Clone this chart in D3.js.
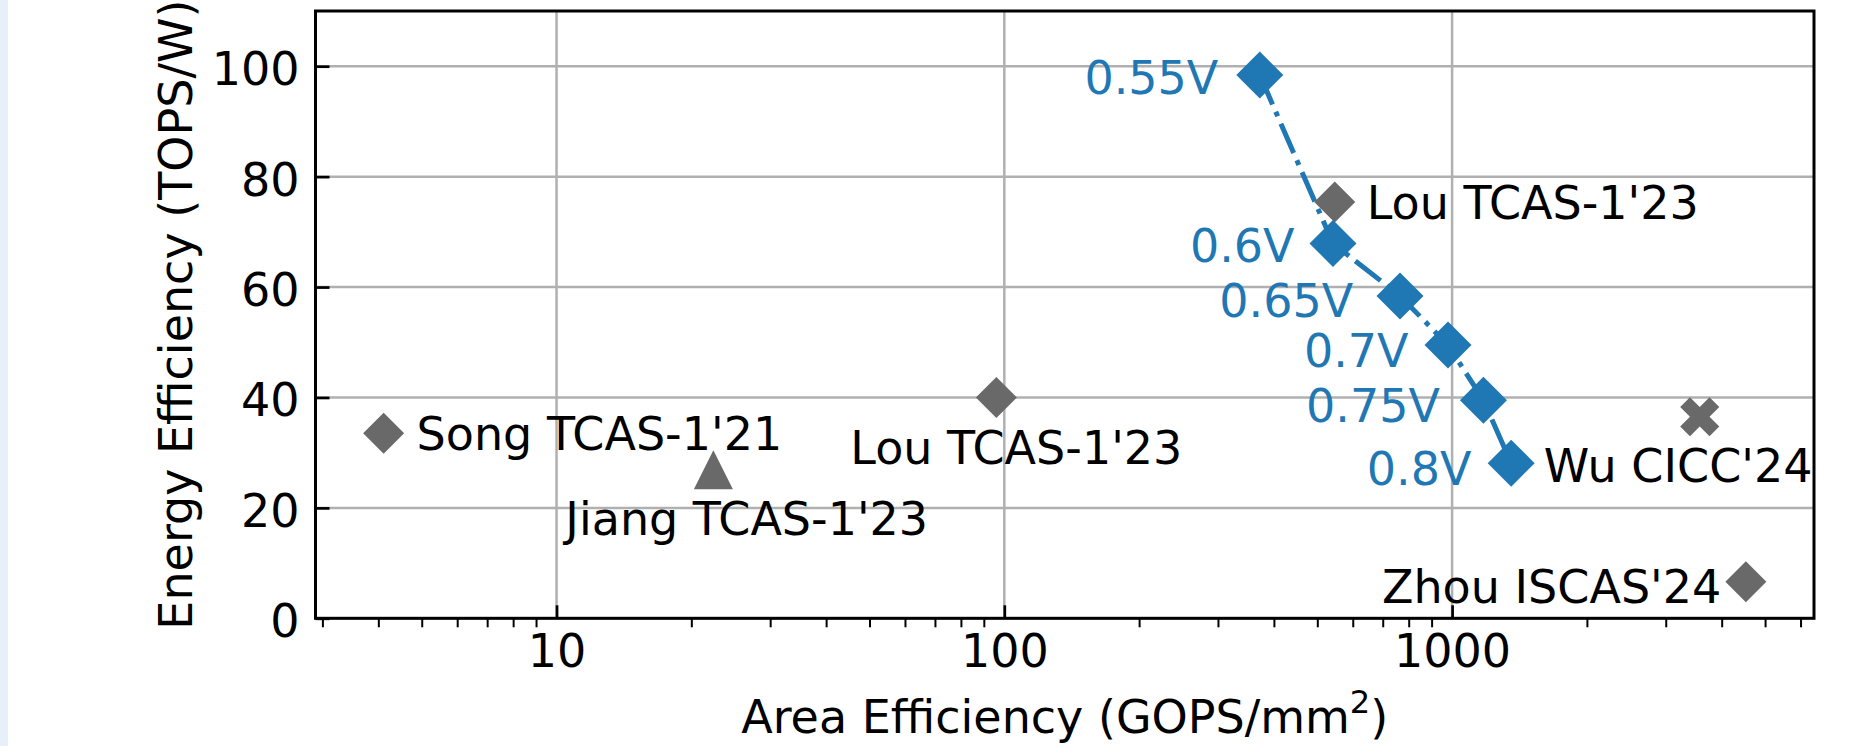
<!DOCTYPE html>
<html>
<head>
<meta charset="utf-8">
<script src="https://cdn.jsdelivr.net/npm/d3@7"></script>
<style>
  html, body { margin: 0; padding: 0; background: #ffffff; }
  svg { display: block; font-family: "DejaVu Sans", sans-serif; }
</style>
</head>
<body>
<svg id="chart" width="1858" height="746"></svg>
<script>
// ---- Published designs (gray markers) ----
const refNames  = ["Song TCAS-1'21", "Jiang TCAS-1'23", "Lou TCAS-1'23", "Lou TCAS-1'23", "Wu CICC'24", "Zhou ISCAS'24"];
const refArea   = [4.11, 22.4, 96, 547, 3573, 4530];   // GOPS/mm^2
const refEnergy = [33.5, 26.9, 40.0, 75.4, 36.5, 6.6]; // TOPS/W
const refMarker = ["diamond", "triangle", "diamond", "diamond", "cross", "diamond"];

// ---- This design, supply-voltage sweep (blue) ----
const voltages    = [0.55, 0.6, 0.65, 0.7, 0.75, 0.8];
const sweepArea   = [372, 542, 765, 979, 1175, 1355];
const sweepEnergy = [98.4, 67.9, 58.4, 49.5, 39.5, 28.1];

// ---- Axis ticks ----
const xMajorTicks = [10, 100, 1000];
const yMajorTicks = [0, 20, 40, 60, 80, 100];
const yLimits = [0, 110];

// ---- Label placement (pixel offsets from each marker) ----
const refLabelLayout = [
  { dx: 33, dy: 17, anchor: "start" },
  { dx: -148, dy: 65.5, anchor: "start" },
  { dx: -146, dy: 66.3, anchor: "start" },
  { dx: 32, dy: 16.6, anchor: "start" },
  { dx: -156, dy: 65.2, anchor: "start" },
  { dx: -24.6, dy: 21.6, anchor: "end" }
];
const sweepLabelLayout = [
  { dx: -41.5, dy: 19 },
  { dx: -38.4, dy: 18.4 },
  { dx: -46.8, dy: 21 },
  { dx: -39.4, dy: 22 },
  { dx: -43.5, dy: 21.7 },
  { dx: -39.8, dy: 22 }
];

// ---- Style ----
const W = 1858, H = 746;
const plot = { left: 315.5, right: 1814, top: 11, bottom: 618.3 };
const FONT = 46;
const BLUE = "#1f77b4", GRAY = "#696969", GRID = "#b0b0b0";

const refData = refNames.map((name, i) => ({
  name, x: refArea[i], y: refEnergy[i], marker: refMarker[i], layout: refLabelLayout[i]
}));
const sweepData = voltages.map((v, i) => ({
  label: v + "V", x: sweepArea[i], y: sweepEnergy[i], layout: sweepLabelLayout[i]
}));

// Log x-domain padded by 5% of the data span in log space
const allX = refArea.concat(sweepArea).map(Math.log10);
const lo = d3.min(allX), hi = d3.max(allX), pad = (hi - lo) * 0.05;
const x = d3.scaleLog().domain([10 ** (lo - pad), 10 ** (hi + pad)]).range([plot.left, plot.right]);
const y = d3.scaleLinear().domain(yLimits).range([plot.bottom, plot.top]);

const svg = d3.select("#chart");
svg.append("rect").attr("width", W).attr("height", H).attr("fill", "#ffffff");
svg.append("rect").attr("x", 0).attr("y", 0).attr("width", 8).attr("height", H).attr("fill", "#e7f0f8");

// Grid
const grid = svg.append("g");
grid.selectAll("line.gx").data(xMajorTicks).join("line")
  .attr("x1", d => x(d)).attr("x2", d => x(d))
  .attr("y1", plot.top).attr("y2", plot.bottom)
  .attr("stroke", GRID).attr("stroke-width", 2.5);
grid.selectAll("line.gy").data(yMajorTicks).join("line")
  .attr("y1", d => y(d)).attr("y2", d => y(d))
  .attr("x1", plot.left).attr("x2", plot.right)
  .attr("stroke", GRID).attr("stroke-width", 2.5);

// Minor x ticks (outward), every integer multiple within each decade
const [d0, d1] = x.domain();
const minorTicks = [];
for (let e = Math.floor(Math.log10(d0)); e <= Math.ceil(Math.log10(d1)); e++) {
  for (let m = 2; m <= 9; m++) {
    const v = m * 10 ** e;
    if (v >= d0 && v <= d1) minorTicks.push(v);
  }
}
const xMinor = d3.axisBottom(x).tickValues(minorTicks).tickSize(9).tickFormat("");
const gxMinor = svg.append("g").attr("transform", `translate(0,${plot.bottom})`).call(xMinor);
gxMinor.select(".domain").remove();
gxMinor.selectAll(".tick line").attr("stroke", "#000").attr("stroke-width", 2);

// Major x ticks (inward) with labels
const xMajor = d3.axisBottom(x).tickValues(xMajorTicks).tickSizeInner(-13).tickSizeOuter(0)
  .tickPadding(0).tickFormat(d3.format("d"));
const gx = svg.append("g").attr("transform", `translate(0,${plot.bottom})`).call(xMajor);
gx.select(".domain").remove();
gx.selectAll(".tick line").attr("stroke", "#000").attr("stroke-width", 2.7);
gx.selectAll(".tick text").attr("y", 48.4).attr("dy", 0)
  .attr("font-size", FONT).attr("font-family", "DejaVu Sans").attr("fill", "#000");

// Major y ticks (inward) with labels
const yAxis = d3.axisLeft(y).tickValues(yMajorTicks).tickSizeInner(-14).tickSizeOuter(0)
  .tickPadding(16).tickFormat(d3.format("d"));
const gy = svg.append("g").attr("transform", `translate(${plot.left},0)`).call(yAxis);
gy.select(".domain").remove();
gy.selectAll(".tick line").attr("stroke", "#000").attr("stroke-width", 2.7);
gy.selectAll(".tick text").attr("dy", "0.4em")
  .attr("font-size", FONT).attr("font-family", "DejaVu Sans").attr("fill", "#000");

// Frame
svg.append("rect")
  .attr("x", plot.left).attr("y", plot.top)
  .attr("width", plot.right - plot.left).attr("height", plot.bottom - plot.top)
  .attr("fill", "none").attr("stroke", "#000").attr("stroke-width", 3);

// Axis titles
const xt = svg.append("text")
  .attr("x", (plot.left + plot.right) / 2).attr("y", 732.7)
  .attr("text-anchor", "middle").attr("font-size", FONT).attr("fill", "#000");
xt.append("tspan").text("Area Efficiency (GOPS/mm");
xt.append("tspan").attr("font-size", FONT * 0.7).attr("dy", -19.7).text("2");
xt.append("tspan").attr("dy", 19.7).text(")");

svg.append("text")
  .attr("transform", `translate(192,${(plot.top + plot.bottom) / 2}) rotate(-90)`)
  .attr("text-anchor", "middle").attr("font-size", FONT).attr("fill", "#000")
  .text("Energy Efficiency (TOPS/W)");

// Marker shapes
const shapes = {
  diamond: r => `M0,${-r}L${r},0L0,${r}L${-r},0Z`,
  triangle: r => `M0,${-r}L${r},${r}L${-r},${r}Z`,
  cross: ms => {
    const pts = [[-1,-3],[1,-3],[1,-1],[3,-1],[3,1],[1,1],[1,3],[-1,3],[-1,1],[-3,1],[-3,-1],[-1,-1]]
      .map(([a, b]) => {
        const s = ms / 6, c = Math.SQRT1_2;
        return [(a - b) * c * s, (a + b) * c * s];
      });
    return "M" + pts.map(p => p.join(",")).join("L") + "Z";
  }
};
const markerSize = { diamond: 20.5, triangle: 19.5, cross: 41.5 };

// Sweep line (dash-dot)
const line = d3.line().x(d => x(d.x)).y(d => y(d.y));
svg.append("path").datum(sweepData)
  .attr("d", line).attr("fill", "none")
  .attr("stroke", BLUE).attr("stroke-width", 5)
  .attr("stroke-dasharray", "32,8,5,8");

// Published designs
svg.append("g").selectAll("path").data(refData).join("path")
  .attr("transform", d => `translate(${x(d.x)},${y(d.y)})`)
  .attr("d", d => shapes[d.marker](markerSize[d.marker]))
  .attr("fill", GRAY);

// Sweep markers
svg.append("g").selectAll("path").data(sweepData).join("path")
  .attr("transform", d => `translate(${x(d.x)},${y(d.y)})`)
  .attr("d", shapes.diamond(23.5))
  .attr("fill", BLUE);

// Labels
svg.append("g").selectAll("text").data(refData).join("text")
  .attr("x", d => x(d.x) + d.layout.dx).attr("y", d => y(d.y) + d.layout.dy)
  .attr("text-anchor", d => d.layout.anchor)
  .attr("font-size", FONT).attr("fill", "#000")
  .text(d => d.name);

svg.append("g").selectAll("text").data(sweepData).join("text")
  .attr("x", d => x(d.x) + d.layout.dx).attr("y", d => y(d.y) + d.layout.dy)
  .attr("text-anchor", "end")
  .attr("font-size", FONT).attr("fill", BLUE)
  .text(d => d.label);
</script>
</body>
</html>
